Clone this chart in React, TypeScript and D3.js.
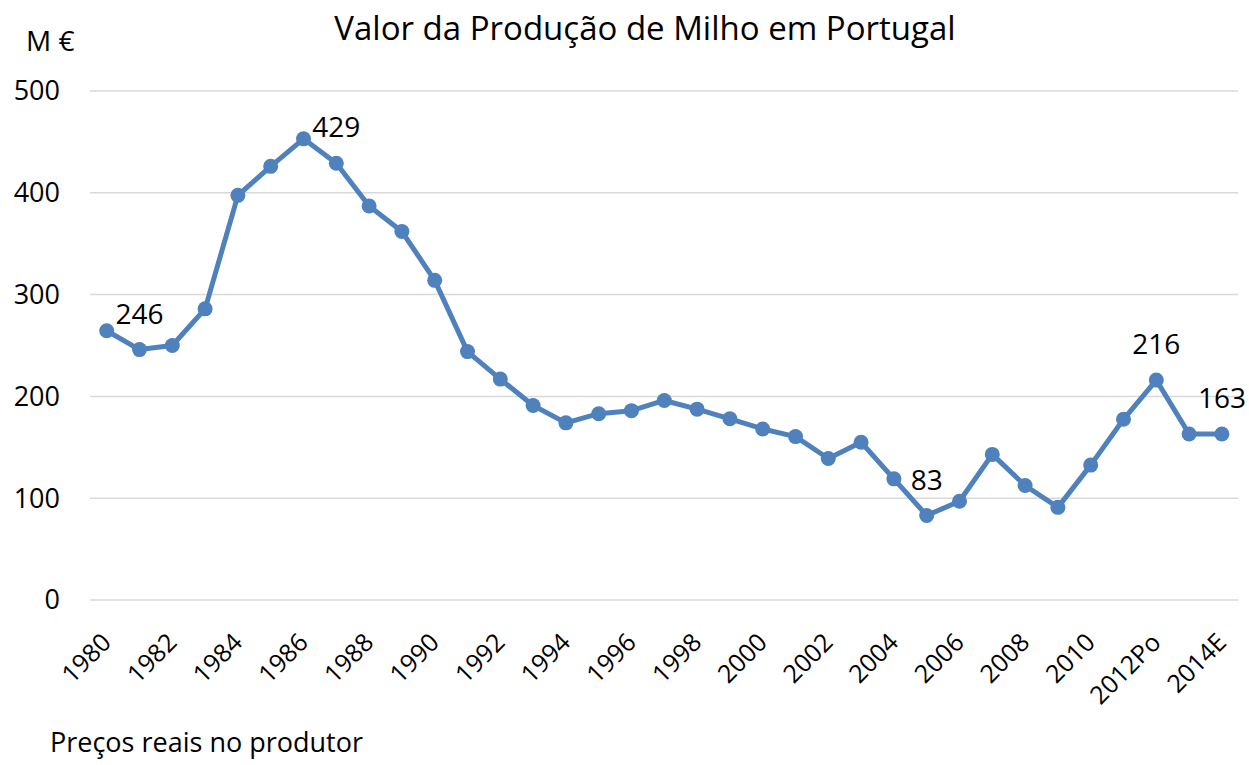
import React from "react";
import * as d3 from "d3";

const years: string[] = [
  "1980","1981","1982","1983","1984","1985","1986","1987","1988","1989",
  "1990","1991","1992","1993","1994","1995","1996","1997","1998","1999",
  "2000","2001","2002","2003","2004","2005","2006","2007","2008","2009",
  "2010","2011","2012Po","2013Po","2014E",
];
const values: number[] = [
  264.5, 246, 250, 286, 397.5, 426, 453, 429, 387, 362,
  314, 244, 217, 191, 174, 183, 186, 196, 187.5, 178,
  168, 160.5, 139, 155, 119, 83, 97, 143, 112.5, 91,
  132.5, 177.5, 216, 163, 163,
];
const labelledYears: string[] = ["1981", "1987", "2005", "2012Po", "2014E"];
const yTicks: number[] = [0, 100, 200, 300, 400, 500];

const W = 1249;
const H = 765;
const FONT = "'Open Sans', 'DejaVu Sans', sans-serif";
const BLUE = "#4F81BD";

export default function App() {
  const x = d3.scaleBand<string>().domain(years).range([90.3, 1238.3]);
  const y = d3.scaleLinear().domain([0, 500]).range([600, 91]);
  const cx = (d: string) => (x(d) as number) + x.bandwidth() / 2;
  const line = d3
    .line<number>()
    .x((_, i) => cx(years[i]))
    .y((v) => y(v));
  const tickYears = years.filter((_, i) => i % 2 === 0);

  return (
    <svg
      width={W}
      height={H}
      style={{ position: "absolute", left: 0, top: 0, background: "#fff" }}
      fontFamily={FONT}
    >
      <text x={645} y={40} textAnchor="middle" fontSize={33} fill="#000">
        Valor da Produção de Milho em Portugal
      </text>
      <text x={26} y={51} fontSize={28} fill="#000">M €</text>
      {yTicks.map((t) => (
        <g key={t}>
          <line x1={90} x2={1238.3} y1={y(t)} y2={y(t)} stroke="#D9D9D9" strokeWidth={1.5} />
          <text x={60} y={y(t)} dy="0.35em" textAnchor="end" fontSize={27} fill="#000">
            {t}
          </text>
        </g>
      ))}
      {tickYears.map((d) => (
        <text
          key={d}
          transform={`translate(${cx(d) + 6},${644}) rotate(-45)`}
          textAnchor="end"
          fontSize={25}
          fill="#000"
        >
          {d}
        </text>
      ))}
      <path d={line(values) ?? ""} fill="none" stroke={BLUE} strokeWidth={5} strokeLinejoin="round" />
      {values.map((v, i) => (
        <circle key={i} cx={cx(years[i])} cy={y(v)} r={7.5} fill={BLUE} />
      ))}
      {years.map((d, i) =>
        labelledYears.includes(d) ? (
          <text key={d} x={cx(d)} y={y(values[i]) - 26} textAnchor="middle" fontSize={28} fill="#000">
            {Math.round(values[i])}
          </text>
        ) : null
      )}
      <text x={50} y={752} fontSize={27} fill="#000">Preços reais no produtor</text>
    </svg>
  );
}
